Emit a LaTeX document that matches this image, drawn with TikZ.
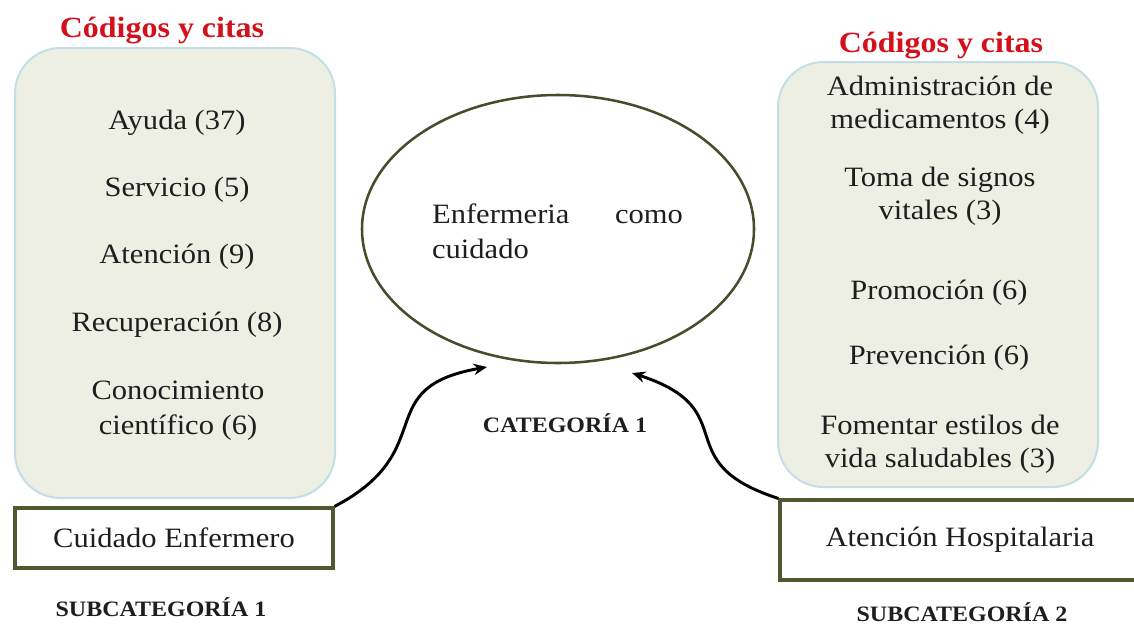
\documentclass[tikz,border=0pt]{standalone}
\usepackage{fontspec}
\setmainfont{Liberation Serif}[FakeStretch=1.09]
\usetikzlibrary{shapes.geometric,arrows.meta}
\definecolor{boxfill}{HTML}{EDEFE2}
\definecolor{boxline}{HTML}{C3DFE5}
\definecolor{olivec}{HTML}{4E5930}
\definecolor{ellline}{HTML}{4A4A2C}
\definecolor{titlered}{HTML}{D4101C}
\definecolor{txt}{HTML}{1E1E1E}
\begin{document}
\begin{tikzpicture}[x=0.75pt,y=-0.75pt,
  codebox/.style={draw=boxline,line width=1.5pt,fill=boxfill,rounded corners=34pt,inner sep=0pt},
  item/.style={font=\fontsize{21}{26.25}\selectfont,align=center,text=txt,inner sep=0pt},
  itemr/.style={font=\fontsize{21}{24.75}\selectfont,align=center,text=txt,inner sep=0pt},
  titlelab/.style={font=\fontsize{22}{26}\selectfont\bfseries,text=titlered,inner sep=0pt},
  subbox/.style={draw=olivec,line width=2.3pt,fill=white,font=\fontsize{21}{26}\selectfont,text=txt},
  lab/.style={font=\fontsize{16.5}{20}\selectfont\bfseries,text=txt,inner sep=0pt},
  conn/.style={line width=2.2pt,-{Stealth[length=10pt,width=8.5pt]}}]
\useasboundingbox (0,0) rectangle (1134,625);
% code boxes
\node[codebox,minimum width=240pt,minimum height=337.5pt] (lbox) at (175,273) {};
\node[codebox,minimum width=240pt,minimum height=318.75pt] (rbox) at (938,274.5) {};
\node[titlelab] (ltitle) at (162,31) {Códigos y citas};
\node[titlelab] (rtitle) at (941,46) {Códigos y citas};
% left items
\node[item] (l1) at (177,123) {Ayuda (37)};
\node[item] (l2) at (177,190) {Servicio (5)};
\node[item] (l3) at (177,257) {Atención (9)};
\node[item] (l4) at (177,325) {Recuperación (8)};
\node[item] (l5) at (178,410.5) {Conocimiento\\científico (6)};
% right items
\node[itemr] (r1) at (940,105) {Administración de\\medicamentos (4)};
\node[itemr] (r2) at (940,196) {Toma de signos\\vitales (3)};
\node[itemr] (r3) at (939,293) {Promoción (6)};
\node[itemr] (r4) at (939,358) {Prevención (6)};
\node[itemr] (r5) at (940,444.5) {Fomentar estilos de\\vida saludables (3)};
% ellipse
\node[draw=ellline,line width=1.9pt,ellipse,minimum width=294pt,minimum height=201pt] (ell) at (558,229) {};
\node[item,align=left,text width=188pt] (etext) at (557.5,231) {Enfermeria\hfill como\\cuidado};
\node[lab] (cat) at (565,423) {CATEGORÍA 1};
% subcategory boxes
\node[subbox,minimum width=238.5pt,minimum height=45pt] (ce) at (174,538) {Cuidado Enfermero};
\node[subbox,minimum width=270pt,minimum height=60pt] (ah) at (960,540) {Atención Hospitalaria};
\node[lab] (s1) at (161,607) {SUBCATEGORÍA 1};
\node[lab] (s2) at (962,612) {SUBCATEGORÍA 2};
% connectors
\coordinate (lend) at (487,367);
\coordinate (rend) at (632,373);
\draw[conn] (ce.north east) .. controls (442,450) and (369,388) .. (lend);
\draw[conn] (ah.north west) .. controls (665,462) and (746,410) .. (rend);
\end{tikzpicture}
\end{document}
